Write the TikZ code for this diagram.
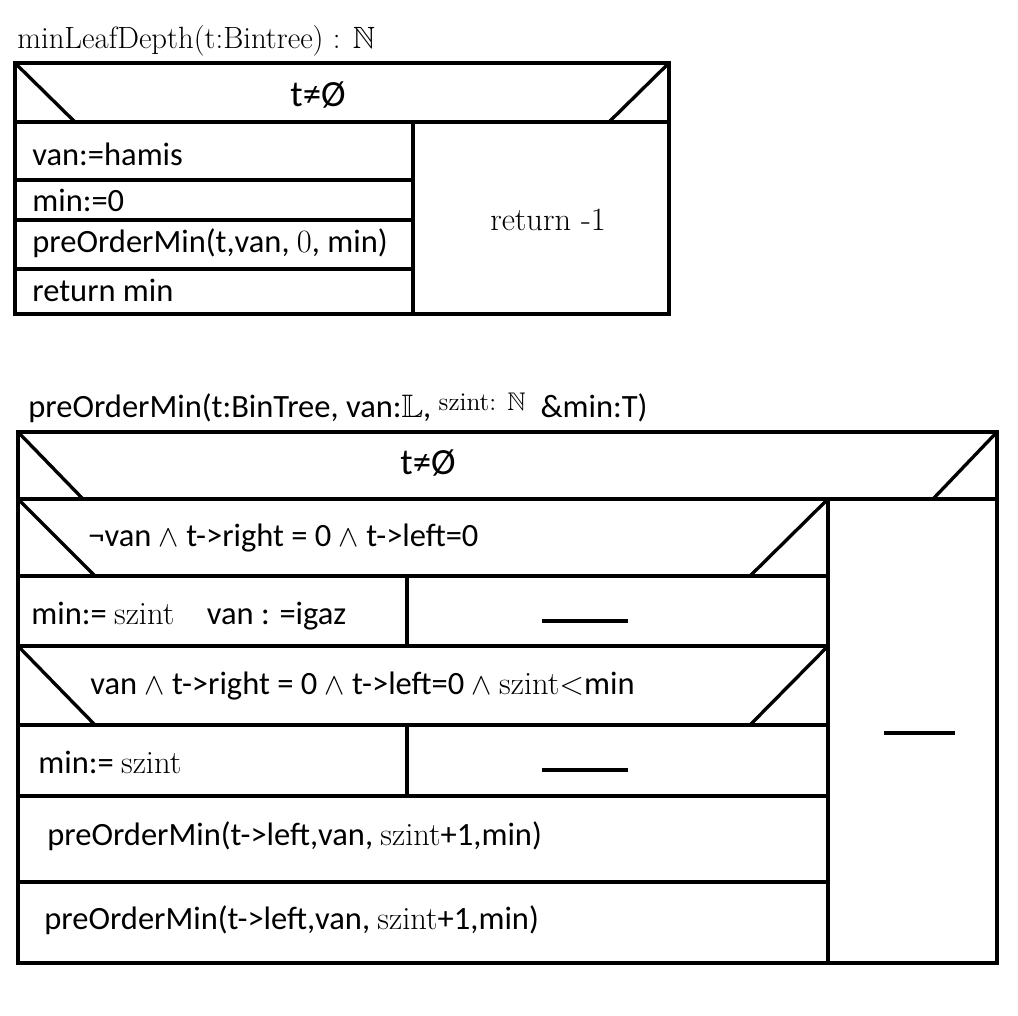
\documentclass[tikz,border=0pt]{standalone}
\usepackage{amssymb}
\usepackage{fontspec}
\newfontfamily\calibri{Carlito}
\tikzset{okvir/.style={line width=1.9pt},
    sor/.style={anchor=west, inner sep=0pt, font=\calibri\fontsize{18.5}{22}\selectfont},
    cim/.style={anchor=west, inner sep=0pt, font=\fontsize{17.5}{21}\selectfont},
    kozep/.style={inner sep=0pt, font=\calibri\fontsize{18.5}{22}\selectfont},
    feltetel/.style={inner sep=0pt, font=\calibri\fontsize{21}{24}\selectfont}}
\newcommand{\szint}{\textrm{szint}}

\begin{document}
\begin{tikzpicture}[x=0.02cm, y=-0.02cm]
    \useasboundingbox (0, 0) rectangle (1018, 1015);

    %minLeafDepth
    \node[cim] (cim1) at (17, 41) {minLeafDepth(t:Bintree) : $\mathbb{N}$};
    \draw[okvir] (15, 63) rectangle (669, 314);
    \draw[okvir] (15, 122) -- (669, 122);
    \draw[okvir] (15, 63) -- (75, 122);
    \draw[okvir] (669, 63) -- (609, 122);
    \draw[okvir] (413, 122) -- (413, 314);
    \foreach \y in {180, 220, 269}
        \draw[okvir] (15, \y) -- (413, \y);
    \node[feltetel] (felt1) at (318, 95) {t≠Ø};
    \node[sor] (van1) at (32, 154) {van:=hamis};
    \node[sor] (min1) at (32, 200) {min:=0};
    \node[sor] (hiv1) at (32, 243) {preOrderMin(t,van, \textrm{0}, min)};
    \node[sor] (ret1) at (32, 290) {return min};
    \node[kozep, font=\fontsize{18.5}{22}\selectfont] (ret2) at (548, 220) {return -1};

    %preOrderMin
    \node[sor] (cim2) at (28, 408) {preOrderMin(t:BinTree, van:$\mathbb{L}$,
        \raisebox{4pt}{\textrm{\fontsize{14.5}{16}\selectfont szint: $\mathbb{N}$}}\ \ \&min:T)};
    \draw[okvir] (18, 432) rectangle (997, 963);
    \draw[okvir] (18, 499) -- (997, 499);
    \draw[okvir] (18, 432) -- (83, 499);
    \draw[okvir] (997, 432) -- (933, 499);
    \draw[okvir] (828, 497) -- (828, 963);
    \node[feltetel] (felt2) at (428, 463) {t≠Ø};

    %elso elagazas
    \draw[okvir] (18, 576) -- (828, 576);
    \draw[okvir] (18, 499) -- (95, 576);
    \draw[okvir] (828, 499) -- (750, 576);
    \node[sor] (felt3) at (88, 538) {¬van $\wedge$ t->right = 0 $\wedge$ t->left=0};
    \draw[okvir] (407, 576) -- (407, 646);
    \node[sor] (ag1) at (31, 616) {min:= \szint\quad van : =igaz};
    \draw[okvir] (542, 621) -- (628, 621);

    %masodik elagazas
    \draw[okvir] (18, 646) -- (828, 646);
    \draw[okvir] (18, 725) -- (828, 725);
    \draw[okvir] (18, 646) -- (95, 725);
    \draw[okvir] (828, 646) -- (750, 725);
    \node[sor] (felt4) at (90, 686) {van $\wedge$ t->right = 0 $\wedge$ t->left=0 $\wedge$ \szint\textrm{<}min};
    \draw[okvir] (407, 725) -- (407, 796);
    \node[sor] (ag2) at (38, 762) {min:= \szint};
    \draw[okvir] (542, 770) -- (628, 770);

    %rekurzio
    \draw[okvir] (18, 796) -- (828, 796);
    \draw[okvir] (18, 882) -- (828, 882);
    \node[sor] (rek1) at (47, 836) {preOrderMin(t->left,van, \szint+1,min)};
    \node[sor] (rek2) at (44, 920) {preOrderMin(t->left,van, \szint+1,min)};

    %ures ag
    \draw[okvir] (884, 733) -- (955, 733);
\end{tikzpicture}
\end{document}
